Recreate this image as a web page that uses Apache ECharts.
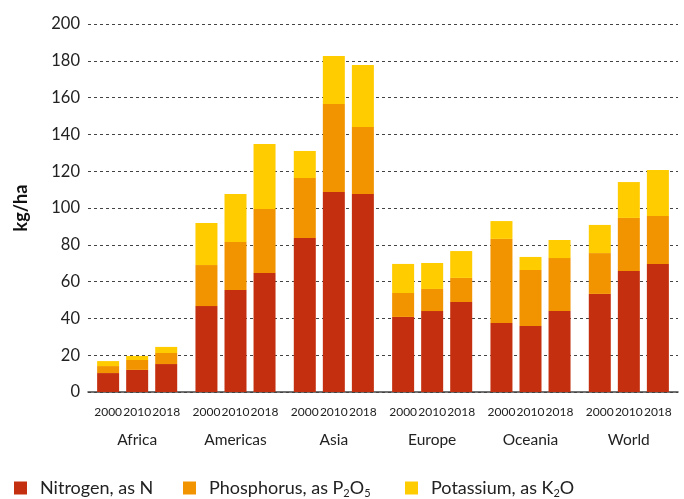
<!DOCTYPE html>
<html>
<head>
<meta charset="utf-8">
<script src="https://cdn.jsdelivr.net/npm/echarts@6/dist/echarts.min.js"></script>
<style>html,body{margin:0;padding:0;background:#fff}#c{width:684px;height:499px}</style>
</head>
<body>
<div id="c"></div>
<script>
// Data (kg/ha), order per region: 2000, 2010, 2018
var regions = ['Africa', 'Americas', 'Asia', 'Europe', 'Oceania', 'World'];
var years = ['2000', '2010', '2018'];
var nitrogen = [
  10.3, 12.0, 15.2,
  46.7, 55.4, 64.7,
  83.7, 108.7, 107.6,
  40.8, 44.0, 48.9,
  37.5, 35.9, 44.0,
  53.3, 65.8, 69.6
];
var phosphorus = [
  3.8, 5.4, 6.0,
  22.3, 26.1, 34.8,
  32.6, 47.8, 36.4,
  13.0, 12.0, 13.1,
  45.7, 30.4, 28.8,
  22.2, 28.8, 26.1
];
var potassium = [
  2.7, 2.2, 3.3,
  22.8, 26.1, 35.3,
  14.7, 26.1, 33.7,
  15.8, 14.1, 14.6,
  9.7, 7.1, 9.8,
  15.3, 19.5, 25.0
];
var yTicks = { min: 0, max: 200, interval: 20 };

var nutrients = [
  { name: 'Nitrogen, as N', data: nitrogen, color: '#C4300F', label: 'Nitrogen, as N' },
  { name: 'Phosphorus, as P2O5', data: phosphorus, color: '#F29400', label: 'Phosphorus, as P{sub|2}O{sub|5}' },
  { name: 'Potassium, as K2O', data: potassium, color: '#FFCC00', label: 'Potassium, as K{sub|2}O' }
];

function pick(arr, yi) {
  return regions.map(function (r, ri) { return arr[ri * 3 + yi]; });
}

var FONT = 'Lato';
var series = [];
years.forEach(function (yr, yi) {
  nutrients.forEach(function (nu, ni) {
    var s = {
      type: 'bar',
      name: nu.name,
      stack: yr,
      barWidth: 22,
      barGap: '32%',
      itemStyle: { color: nu.color },
      emphasis: { disabled: true },
      data: pick(nu.data, yi)
    };
    if (ni === 0) {
      s.label = {
        show: true,
        position: 'bottom',
        distance: 14,
        formatter: function () { return yr; },
        fontFamily: FONT,
        fontSize: 12,
        color: '#222'
      };
    }
    series.push(s);
  });
});

var legendLefts = [14, 183, 405];
var legends = nutrients.map(function (nu, i) {
  return {
    data: [nu.name],
    left: legendLefts[i],
    top: 479,
    padding: 0,
    icon: 'rect',
    itemWidth: 13,
    itemHeight: 13,
    selectedMode: false,
    formatter: function () { return nu.label; },
    textStyle: {
      fontFamily: FONT,
      fontSize: 18,
      color: '#222',
      padding: [0, 0, 0, 8],
      rich: {
        sub: { fontFamily: FONT, fontSize: 11, color: '#222', verticalAlign: 'bottom', padding: [10, 0, 0, 0] }
      }
    }
  };
});

var chart = echarts.init(document.getElementById('c'), null, { renderer: 'canvas' });
chart.setOption({
  animation: false,
  textStyle: { fontFamily: FONT },
  grid: { left: 88, right: 6, top: 24, bottom: 107 },
  legend: legends,
  xAxis: {
    type: 'category',
    data: regions,
    axisLine: { lineStyle: { color: '#444', width: 1.5 } },
    axisTick: { show: false },
    axisLabel: { fontFamily: FONT, fontSize: 15.5, color: '#222', margin: 40 }
  },
  yAxis: {
    type: 'value',
    min: yTicks.min,
    max: yTicks.max,
    interval: yTicks.interval,
    name: 'kg/ha',
    nameLocation: 'middle',
    nameGap: 58,
    nameTextStyle: { fontFamily: FONT, fontSize: 18, fontWeight: 'bold', color: '#111' },
    axisLine: { show: false },
    axisTick: { show: false },
    axisLabel: { fontFamily: FONT, fontSize: 16.5, color: '#222', margin: 8 },
    splitLine: { lineStyle: { color: '#444', type: [3, 3], width: 1 } }
  },
  series: series
});
</script>
</body>
</html>
